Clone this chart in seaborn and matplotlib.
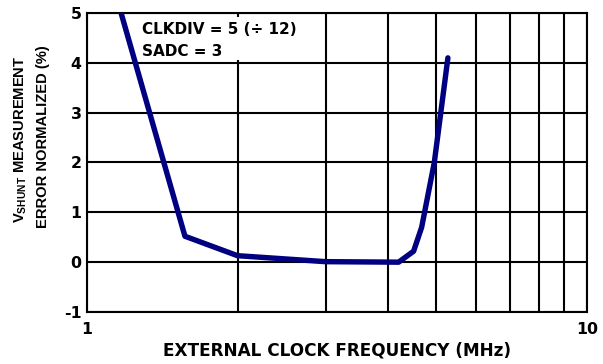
import matplotlib
matplotlib.use("Agg")
import matplotlib.pyplot as plt
from matplotlib.patches import Rectangle
from matplotlib.ticker import FixedLocator, NullFormatter, FixedFormatter
import seaborn as sns
import pandas as pd

# Measured shunt-voltage error vs external clock frequency
freq_mhz = [1.17, 1.57, 2.0, 3.0, 4.2, 4.5, 4.67, 4.95, 5.27]
error_pct = [5.0, 0.52, 0.13, 0.01, 0.0, 0.22, 0.7, 2.0, 4.1]

x_ticks = [1, 10]
x_tick_labels = ["1", "10"]
x_grid = [2, 3, 4, 5, 6, 7, 8, 9]
y_ticks = [-1, 0, 1, 2, 3, 4, 5]

sns.set_style("white")
plt.rcParams["font.family"] = ["DejaVu Sans"]
plt.rcParams["font.weight"] = "bold"
plt.rcParams["text.color"] = "black"
plt.rcParams["axes.labelcolor"] = "black"
plt.rcParams["xtick.color"] = "black"
plt.rcParams["ytick.color"] = "black"
plt.rcParams["mathtext.fontset"] = "custom"
plt.rcParams["mathtext.rm"] = "Liberation Sans:bold"
plt.rcParams["mathtext.bf"] = "Liberation Sans:bold"

WIDE = ["DejaVu Sans"]
NARROW = ["Liberation Sans", "DejaVu Sans"]

df = pd.DataFrame({"freq": freq_mhz, "err": error_pct})

fig = plt.figure(figsize=(6.03, 3.64), dpi=100)
ax = fig.add_axes([87 / 603, 1 - 312 / 364, 500 / 603, 299 / 364])

sns.lineplot(data=df, x="freq", y="err", sort=False, color="#000080",
             linewidth=3.9, ax=ax, zorder=5)

ax.set_xscale("log")
ax.set_xlim(1, 10)
ax.set_ylim(-1, 5)

ax.xaxis.set_major_locator(FixedLocator(x_ticks))
ax.xaxis.set_major_formatter(FixedFormatter(x_tick_labels))
ax.xaxis.set_minor_locator(FixedLocator(x_grid))
ax.xaxis.set_minor_formatter(NullFormatter())
ax.set_yticks(y_ticks)
ax.set_yticklabels([str(v) for v in y_ticks])

ax.grid(True, which="both", axis="x", color="black", linewidth=1.5)
ax.grid(True, which="major", axis="y", color="black", linewidth=1.5)
ax.set_axisbelow(True)

for s in ax.spines.values():
    s.set_visible(True)
    s.set_color("black")
    s.set_linewidth(1.5)

ax.tick_params(axis="both", which="both", length=0, labelsize=11.3,
               labelcolor="black")
ax.tick_params(axis="x", pad=7)
ax.tick_params(axis="y", pad=4)
for lbl in ax.get_xticklabels() + ax.get_yticklabels():
    lbl.set_fontweight("bold")
    lbl.set_family(WIDE)

ax.set_xlabel("EXTERNAL CLOCK FREQUENCY (MHz)", fontsize=12.2,
              fontweight="bold", family=WIDE, color="black")
ax.xaxis.set_label_coords(0.5, (312 - 350.5) / 299)
ax.xaxis.label.set_va("center")
ax.set_ylabel("")

fig.text(21 / 603, 1 - 139 / 364, r"V$_{\mathrm{SHUNT}}$ MEASUREMENT",
         rotation=90, ha="center", va="center", fontsize=10.6,
         fontweight="bold", family=NARROW, color="black")
fig.text(43 / 603, 1 - 137 / 364, "ERROR NORMALIZED (%)",
         rotation=90, ha="center", va="center", fontsize=10.6,
         fontweight="bold", family=NARROW, color="black")

# white panel behind the settings note
ax.add_patch(Rectangle((1.265, 4.06), 2.666 - 1.265, 4.92 - 4.06,
                       facecolor="white", edgecolor="none", zorder=3))
ax.text(1.286, 4.574, "CLKDIV = 5 (÷ 12)", ha="left", va="baseline",
        fontsize=11, fontweight="bold", family=WIDE, color="black", zorder=6)
ax.text(1.286, 4.14, "SADC = 3", ha="left", va="baseline",
        fontsize=11, fontweight="bold", family=WIDE, color="black", zorder=6)

fig.savefig("out.png", dpi=100)
